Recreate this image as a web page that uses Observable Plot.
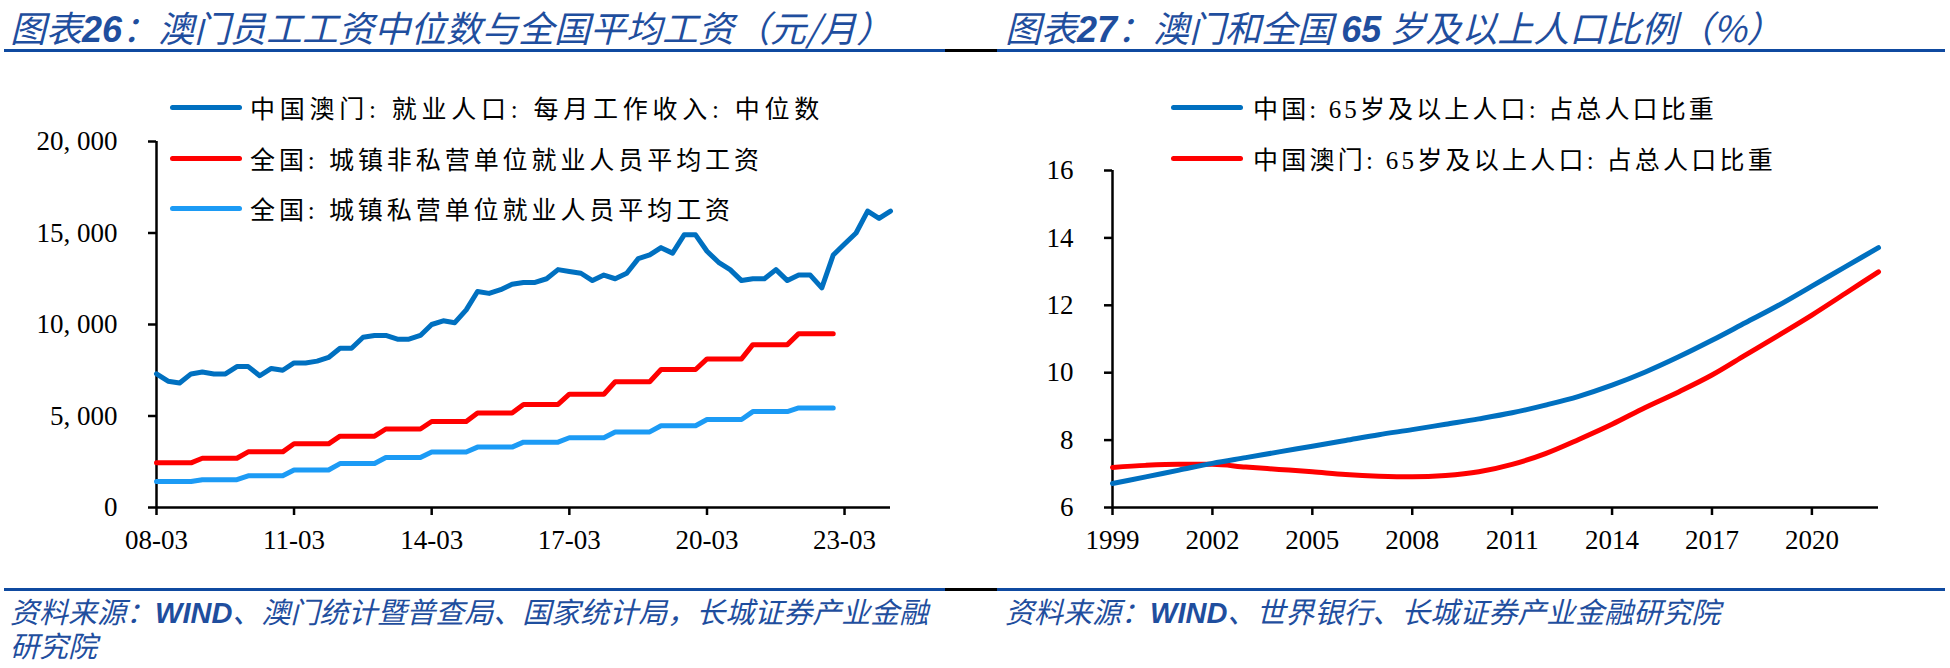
<!DOCTYPE html>
<html><head><meta charset="utf-8">
<script src="https://cdn.jsdelivr.net/npm/d3@7"></script>
<script src="https://cdn.jsdelivr.net/npm/@observablehq/plot@0.6"></script>
<style>
html,body{margin:0;padding:0;background:#fff;}
#root{position:relative;width:1950px;height:668px;overflow:hidden;background:#fff;}
.title{position:absolute;top:0px;font-family:"Noto Sans CJK SC";font-style:italic;font-size:36px;color:#1F4E9E;white-space:nowrap;line-height:53px;padding-right:14px;}
.title b{font-family:"Liberation Sans","Noto Sans CJK SC";font-weight:bold;}
.rule{position:absolute;height:3px;}
.caption{position:absolute;font-family:"Liberation Sans","Noto Sans CJK SC";font-style:italic;font-size:29px;color:#1F4E9E;line-height:34px;white-space:nowrap;padding-right:12px;}
.caption b{font-family:"Liberation Sans";font-weight:bold;}
.legend{position:absolute;font-family:"Liberation Serif","Noto Sans CJK SC";font-size:25px;color:#000;white-space:nowrap;display:flex;align-items:center;height:34px;}
.sw{width:72px;height:5px;border-radius:3px;margin-right:8px;flex:none;}
.plot{position:absolute;top:100px;}
</style></head><body><div id="root"></div>
<script>
// ---------- Left chart data ----------
const leftTitle = "图表26：澳门员工工资中位数与全国平均工资（元/月）";
const leftSource = ["资料来源：", "WIND", "、澳门统计暨普查局、国家统计局，长城证券产业金融", "研究院"];
const leftSeriesNames = ["中国澳门: 就业人口: 每月工作收入: 中位数", "全国: 城镇非私营单位就业人员平均工资", "全国: 城镇私营单位就业人员平均工资"];
const leftColors = ["#0070C0", "#FF0000", "#1C9BF5"];
const macauStartYear = 2008; // first quarter: 2008-03, quarterly
const macauMedian = [7300, 6900, 6800, 7300, 7400, 7300, 7300, 7700, 7700, 7200, 7600, 7500, 7900, 7900, 8000, 8200,
  8700, 8700, 9300, 9400, 9400, 9200, 9200, 9400, 10000, 10200, 10100, 10800, 11800, 11700, 11900, 12200,
  12300, 12300, 12500, 13000, 12900, 12800, 12400, 12700, 12500, 12800, 13600, 13800, 14200, 13900, 14900, 14900,
  14000, 13400, 13000, 12400, 12500, 12500, 13000, 12400, 12700, 12700, 12000, 13800, 14400, 15000, 16200, 15800, 16200];
const wageYears = [2008, 2009, 2010, 2011, 2012, 2013, 2014, 2015, 2016, 2017, 2018, 2019, 2020, 2021, 2022];
const nonPrivateWage = [2440, 2690, 3040, 3480, 3900, 4290, 4700, 5170, 5630, 6190, 6870, 7540, 8120, 8900, 9500];
const privateWage = [1420, 1520, 1730, 2050, 2400, 2730, 3030, 3300, 3570, 3810, 4130, 4470, 4810, 5240, 5440];
const leftYTicks = [0, 5000, 10000, 15000, 20000];
const leftXTickLabels = ["08-03", "11-03", "14-03", "17-03", "20-03", "23-03"];

// ---------- Right chart data ----------
const rightTitle = "图表27：澳门和全国 65 岁及以上人口比例（%）";
const rightSource = ["资料来源：", "WIND", "、世界银行、长城证券产业金融研究院"];
const rightSeriesNames = ["中国: 65岁及以上人口: 占总人口比重", "中国澳门: 65岁及以上人口: 占总人口比重"];
const rightColors = ["#0070C0", "#FF0000"];
const popYears = [1999, 2000, 2001, 2002, 2003, 2004, 2005, 2006, 2007, 2008, 2009, 2010, 2011, 2012, 2013, 2014, 2015, 2016, 2017, 2018, 2019, 2020, 2021, 2022];
const chinaShare = [6.71, 6.91, 7.11, 7.31, 7.48, 7.65, 7.82, 7.99, 8.16, 8.31, 8.47, 8.63, 8.81, 9.04, 9.30, 9.63, 10.02, 10.47, 10.96, 11.48, 12.00, 12.57, 13.14, 13.71];
const macauShare = [7.19, 7.25, 7.28, 7.28, 7.20, 7.13, 7.06, 6.98, 6.93, 6.91, 6.95, 7.06, 7.28, 7.60, 8.02, 8.47, 8.97, 9.43, 9.93, 10.52, 11.11, 11.71, 12.35, 12.99];
const rightYTicks = [6, 8, 10, 12, 14, 16];
const rightXTicks = [1999, 2002, 2005, 2008, 2011, 2014, 2017, 2020];

// ---------- Layout (styling only) ----------
const legendTextLeft = {left: 250, right: 1253};
const legendTextEnds = {left: [824, 763, 734], right: [1717, 1776]};
const legendYs = [90, 141, 191];

// ---------- Build tables ----------
const qDate = (i) => new Date(Date.UTC(macauStartYear + Math.floor(i / 4), 2 + 3 * (i % 4), 1));
const parseTick = (s) => new Date(Date.UTC(2000 + +s.slice(0, 2), +s.slice(3) - 1, 1));
const macauRows = macauMedian.map((v, i) => ({date: qDate(i), value: v}));
const expandAnnual = (vals) => wageYears.flatMap((y, k) => [0, 1, 2, 3].map(q => ({date: new Date(Date.UTC(y, 2 + 3 * q, 1)), value: vals[k]})));
const nonPrivateRows = expandAnnual(nonPrivateWage);
const privateRows = expandAnnual(privateWage);
const leftXDomain = [qDate(0), qDate(macauMedian.length - 1)];
const leftXTicks = leftXTickLabels.map(parseTick);
const chinaRows = popYears.map((y, i) => ({year: y, value: chinaShare[i]}));
const macauPopRows = popYears.map((y, i) => ({year: y, value: macauShare[i]}));

const fmtWage = (d) => d3.format(",")(d).replace(",", ", ");
const axisStyle = {fontFamily: '"Liberation Serif", "Noto Sans CJK SC", serif', fontSize: "27px", color: "#000", background: "transparent", overflow: "visible"};

const left = Plot.plot({
  width: 975, height: 460,
  marginLeft: 156, marginRight: 85, marginTop: 41, marginBottom: 53,
  style: axisStyle,
  x: {type: "utc", domain: leftXDomain},
  y: {domain: [leftYTicks[0], leftYTicks[leftYTicks.length - 1]]},
  marks: [
    Plot.axisY({ticks: leftYTicks, tickSize: 8, tickPadding: 31, tickFormat: fmtWage, fontSize: 27, strokeWidth: 2.5, label: null}),
    Plot.axisX({ticks: leftXTicks, tickSize: 8, tickPadding: 14, tickFormat: d3.utcFormat("%y-%m"), fontSize: 27, strokeWidth: 2.5, label: null}),
    Plot.ruleX([leftXDomain[0]], {stroke: "#000", strokeWidth: 2.5}),
    Plot.ruleY([leftYTicks[0]], {stroke: "#000", strokeWidth: 2.5}),
    Plot.line(privateRows, {x: "date", y: "value", stroke: leftColors[2], strokeWidth: 5}),
    Plot.line(nonPrivateRows, {x: "date", y: "value", stroke: leftColors[1], strokeWidth: 5}),
    Plot.line(macauRows, {x: "date", y: "value", stroke: leftColors[0], strokeWidth: 5})
  ]
});

const right = Plot.plot({
  width: 975, height: 460,
  marginLeft: 137, marginRight: 72, marginTop: 70, marginBottom: 53,
  style: axisStyle,
  x: {domain: [popYears[0], popYears[popYears.length - 1]]},
  y: {domain: [rightYTicks[0], rightYTicks[rightYTicks.length - 1]]},
  marks: [
    Plot.axisY({ticks: rightYTicks, tickSize: 8, tickPadding: 31, tickFormat: d => String(d), fontSize: 27, strokeWidth: 2.5, label: null}),
    Plot.axisX({ticks: rightXTicks, tickSize: 8, tickPadding: 14, tickFormat: d => String(d), fontSize: 27, strokeWidth: 2.5, label: null}),
    Plot.ruleX([popYears[0]], {stroke: "#000", strokeWidth: 2.5}),
    Plot.ruleY([rightYTicks[0]], {stroke: "#000", strokeWidth: 2.5}),
    Plot.line(macauPopRows, {x: "year", y: "value", stroke: rightColors[1], strokeWidth: 5, curve: "monotone-x"}),
    Plot.line(chinaRows, {x: "year", y: "value", stroke: rightColors[0], strokeWidth: 5, curve: "monotone-x"})
  ]
});

// ---------- Page layout ----------
const root = document.getElementById("root");
function el(tag, cls, css, html) {
  const e = document.createElement(tag);
  if (cls) e.className = cls;
  Object.assign(e.style, css || {});
  if (html != null) e.innerHTML = html;
  root.appendChild(e);
  return e;
}
const boldDigits = (s) => s.replace(/(\d+)/g, "<b>$1</b>");
el("div", "title", {left: "10px"}, boldDigits(leftTitle));
el("div", "title", {left: "1005px"}, boldDigits(rightTitle));
for (const y of [49, 588]) {
  el("div", "rule", {left: "4px", width: "941px", top: y + "px", background: "#0F4AA0"});
  el("div", "rule", {left: "945px", width: "52px", top: y + "px", background: "#000"});
  el("div", "rule", {left: "997px", width: "948px", top: y + "px", background: "#0F4AA0"});
}
const lp = el("div", "plot", {left: "0px"}); lp.appendChild(left);
const rp = el("div", "plot", {left: "975px"}); rp.appendChild(right);

function legendItem(name, color, swLeft, top, textLeft, textEnd) {
  const d = el("div", "legend", {left: swLeft + "px", top: top + "px"},
    `<span class="sw" style="background:${color}"></span><span class="lt">${name}</span>`);
  const t = d.querySelector(".lt");
  const sw = d.querySelector(".sw");
  sw.style.marginRight = (textLeft - swLeft - 72) + "px";
  const w = t.getBoundingClientRect().width;
  const n = [...name].length;
  t.style.letterSpacing = Math.max(0, (textEnd - textLeft - w) / n) + "px";
}
leftSeriesNames.forEach((n, i) => legendItem(n, leftColors[i], 170, legendYs[i], legendTextLeft.left, legendTextEnds.left[i]));
rightSeriesNames.forEach((n, i) => legendItem(n, rightColors[i], 1171, legendYs[i], legendTextLeft.right, legendTextEnds.right[i]));

el("div", "caption", {left: "10px", top: "596px"}, `${leftSource[0]}<b>${leftSource[1]}</b>${leftSource[2]}<br>${leftSource[3]}`);
el("div", "caption", {left: "1005px", top: "596px"}, `${rightSource[0]}<b>${rightSource[1]}</b>${rightSource[2]}`);
</script></body></html>
